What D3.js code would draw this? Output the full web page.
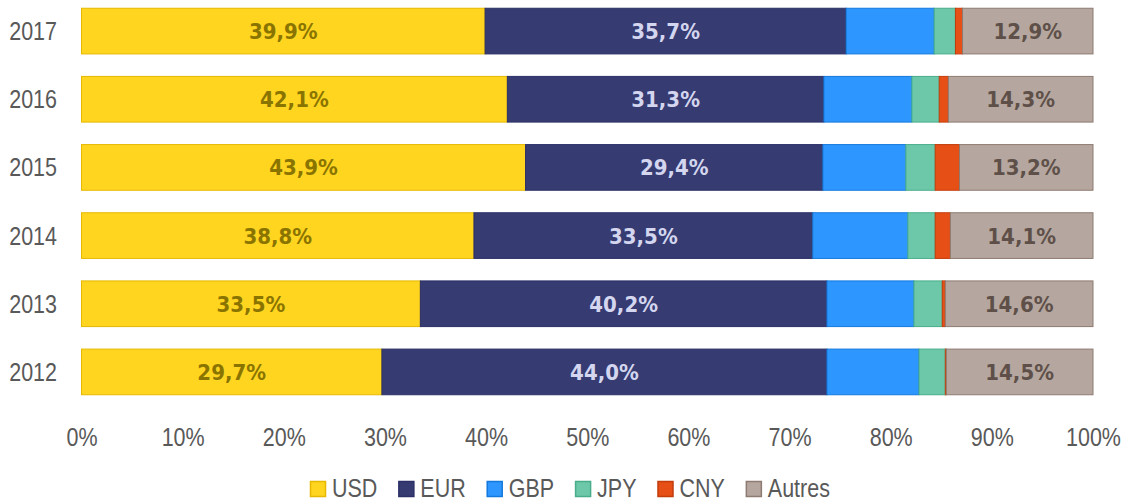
<!doctype html>
<html>
<head>
<meta charset="utf-8">
<script src="https://d3js.org/d3.v7.min.js"></script>
<style>
  body { margin: 0; background: #fff; }
  text { font-family: "Liberation Sans", Arial, sans-serif; }
</style>
</head>
<body>
<script>
// data (shares in %)
var years = ["2017", "2016", "2015", "2014", "2013", "2012"];
var currencies = ["USD", "EUR", "GBP", "JPY", "CNY", "Autres"];
var usd    = [39.9, 42.1, 43.9, 38.8, 33.5, 29.7];
var eur    = [35.7, 31.3, 29.4, 33.5, 40.2, 44.0];
var gbp    = [8.7, 8.7, 8.2, 9.4, 8.6, 9.1];
var jpy    = [2.1, 2.7, 2.9, 2.7, 2.8, 2.6];
var cny    = [0.7, 0.9, 2.4, 1.5, 0.3, 0.1];
var autres = [12.9, 14.3, 13.2, 14.1, 14.6, 14.5];
var ticks  = [0, 10, 20, 30, 40, 50, 60, 70, 80, 90, 100];

var fills   = ["#FFD520", "#363B72", "#2E96FF", "#6DC8A9", "#E65016", "#B5A79F"];
var strokes = ["#E6B800", "#2C3066", "#1479DC", "#48AD89", "#C23C0C", "#8E7B71"];
var labelColors = { USD: "#8A7400", EUR: "#D3D6EE", Autres: "#5E5049" };

var narrow = 0.86; // the original font is a narrow one

var rows = years.map(function (y, i) {
    return { year: y, USD: usd[i], EUR: eur[i], GBP: gbp[i], JPY: jpy[i], CNY: cny[i], Autres: autres[i] };
});

var width = 1129, height = 502;

var svg = d3.select("body").append("svg")
    .attr("width", width)
    .attr("height", height);

var x = d3.scaleLinear().domain([0, 100]).range([81.5, 1093]);
var y = d3.scaleBand().domain(years).range([-3, 406]).paddingInner(0.33).paddingOuter(0.165);
var color = d3.scaleOrdinal().domain(currencies).range(fills);
var stroke = d3.scaleOrdinal().domain(currencies).range(strokes);

var series = d3.stack().keys(currencies)(rows);

var layers = svg.selectAll(".layer")
    .data(series)
    .enter().append("g")
    .attr("class", "layer");

layers.selectAll("rect")
    .data(function (d) { return d.map(function (p) { p.key = d.key; return p; }); })
    .enter().append("rect")
    .attr("x", function (d) { return x(d[0]); })
    .attr("y", function (d) { return y(d.data.year); })
    .attr("width", function (d) { return x(d[1]) - x(d[0]); })
    .attr("height", y.bandwidth())
    .attr("fill", function (d) { return color(d.key); })
    .attr("stroke", function (d) { return stroke(d.key); })
    .attr("stroke-width", 1);

// value labels for USD, EUR and Autres
layers.filter(function (d) { return labelColors[d.key]; })
    .selectAll("text")
    .data(function (d) { return d; })
    .enter().append("text")
    .attr("x", function (d) { return (x(d[0]) + x(d[1])) / 2; })
    .attr("y", function (d) { return y(d.data.year) + y.bandwidth() / 2 + 8; })
    .attr("text-anchor", "middle")
    .style("font-family", "'DejaVu Sans Condensed', 'DejaVu Sans', sans-serif")
    .style("font-weight", "bold")
    .style("font-size", "22px")
    .attr("fill", function (d) { return labelColors[d.key]; })
    .text(function (d) { return (d[1] - d[0]).toFixed(1).replace(".", ",") + "%"; });

// year labels
svg.append("g").selectAll("text")
    .data(years)
    .enter().append("text")
    .attr("transform", function (d) {
        return "translate(57," + (y(d) + y.bandwidth() / 2 + 9) + ") scale(" + narrow + ",1)";
    })
    .attr("text-anchor", "end")
    .style("font-size", "25px")
    .attr("fill", "#595959")
    .text(function (d) { return d; });

// x axis
var xAxis = d3.axisBottom(x).tickValues(ticks).tickSize(0).tickFormat(function (d) { return d + "%"; });
var ax = svg.append("g")
    .attr("transform", "translate(0,421)")
    .call(xAxis);
ax.select(".domain").remove();
ax.selectAll("text")
    .attr("dy", 0)
    .attr("y", 0)
    .attr("transform", "translate(0,25) scale(" + narrow + ",1)")
    .style("font-family", "'Liberation Sans', Arial, sans-serif")
    .style("font-size", "25px")
    .attr("fill", "#595959");

// legend
var legend = svg.append("g").attr("transform", "translate(310,0)");
var lx = 0;
currencies.forEach(function (c) {
    var g = legend.append("g").attr("transform", "translate(" + lx + ",0)");
    g.append("rect")
        .attr("x", 0.5).attr("y", 481.5)
        .attr("width", 15).attr("height", 15)
        .attr("fill", color(c))
        .attr("stroke", stroke(c))
        .attr("stroke-width", 1.5);
    var t = g.append("text")
        .attr("transform", "translate(22,497) scale(" + narrow + ",1)")
        .style("font-size", "25px")
        .attr("fill", "#595959")
        .text(c);
    lx += 22 + t.node().getComputedTextLength() * narrow + 21;
});
</script>
</body>
</html>
